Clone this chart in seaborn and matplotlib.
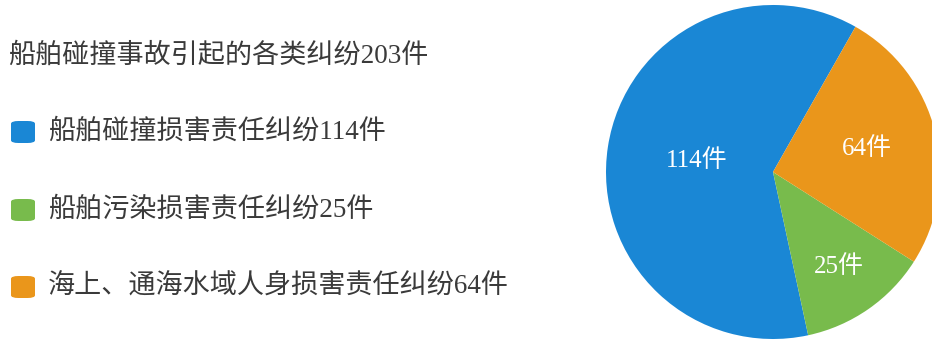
import numpy as np
import matplotlib
matplotlib.use("Agg")
import matplotlib.pyplot as plt
from matplotlib.patches import FancyBboxPatch
import seaborn as sns

# ---- data ----
title_text = "船舶碰撞事故引起的各类纠纷203件"
categories = ["船舶碰撞损害责任纠纷", "船舶污染损害责任纠纷", "海上、通海水域人身损害责任纠纷"]
counts = [114, 25, 64]
# slice sizes as drawn in the reference picture (share of circle, %)
slice_shares = [61.6, 12.6, 25.8]
colors = ["#1a87d5", "#78bb4c", "#ea961b"]
label_radius = [0.46, 0.69, 0.58]

sns.set_theme(style="white")
plt.rcParams["font.family"] = ["Liberation Serif", "Noto Sans CJK SC", "DejaVu Sans"]

W, H = 932, 344
fig = plt.figure(figsize=(W / 100, H / 100), dpi=100)
fig.patch.set_facecolor("white")

# ---- pie ----
cx, cy, r = 773, 172, 167
ax = fig.add_axes([(cx - r) / W, (cy - r) / H, 2 * r / W, 2 * r / H])
palette = sns.color_palette(colors)
wedges, _ = ax.pie(slice_shares, colors=palette, startangle=60.4, counterclock=True,
                   wedgeprops=dict(linewidth=0))
ax.set_xlim(-1, 1)
ax.set_ylim(-1, 1)
ax.set_aspect("equal")
ax.axis("off")
for w, c, lr in zip(wedges, counts, label_radius):
    mid = np.deg2rad((w.theta1 + w.theta2) / 2)
    ax.text(lr * np.cos(mid), lr * np.sin(mid), f"{c}件", color="white",
            fontsize=18, ha="center", va="center")

# ---- legend ----
text_color = "#3a3a3a"
fig.text(8 / W, 1 - 56 / H, title_text, fontsize=19.5, color=text_color,
         ha="left", va="center")
row_y = [132, 210, 287]
for y, cat, c, col in zip(row_y, categories, counts, palette):
    box = FancyBboxPatch((11 / W, 1 - (y + 11) / H), 24 / W, 22 / H,
                         boxstyle="round,pad=0,rounding_size=0.008",
                         transform=fig.transFigure, facecolor=col, edgecolor="none")
    fig.patches.append(box)
    fig.text(48 / W, 1 - y / H, f"{cat}{c}件", fontsize=19.5, color=text_color,
             ha="left", va="center")

fig.savefig("out.png", dpi=100, facecolor="white")
